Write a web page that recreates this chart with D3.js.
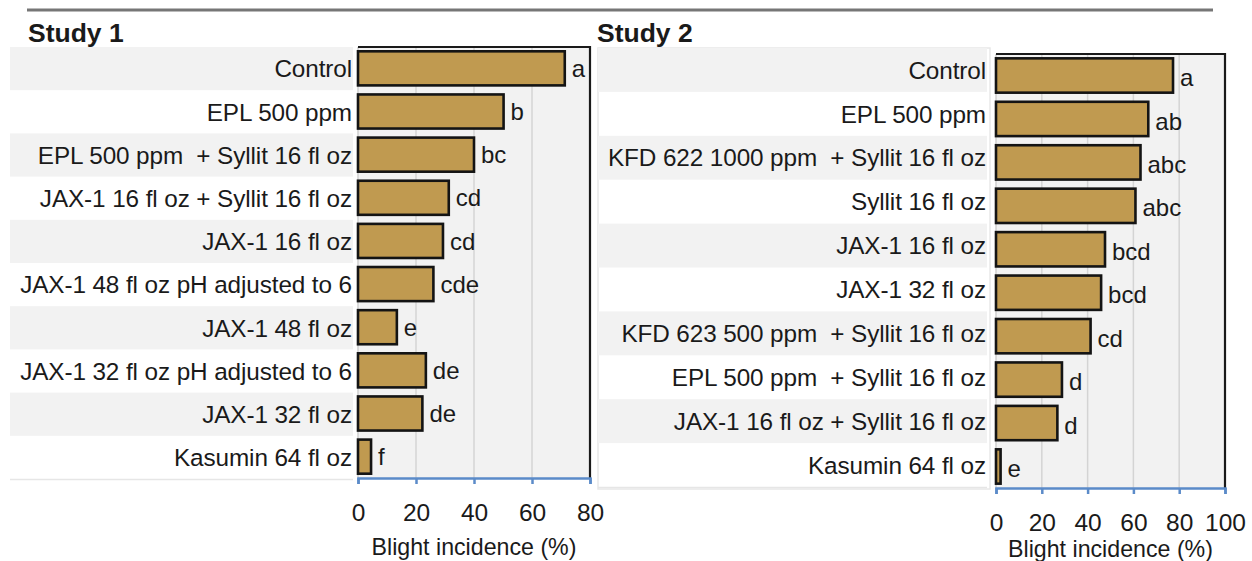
<!DOCTYPE html>
<html>
<head>
<meta charset="utf-8">
<script src="https://cdn.jsdelivr.net/npm/d3@7"></script>
<style>
  html, body { margin: 0; padding: 0; background: #ffffff; }
  svg { display: block; }
  text { font-family: "Liberation Sans", Arial, sans-serif; fill: #1a1a1a; white-space: pre; }
</style>
</head>
<body>
<svg id="chart" width="1252" height="561"></svg>
<script>
// ---- data ----
const study1Categories = [
  "Control",
  "EPL 500 ppm",
  "EPL 500 ppm  + Syllit 16 fl oz",
  "JAX-1 16 fl oz + Syllit 16 fl oz",
  "JAX-1 16 fl oz",
  "JAX-1 48 fl oz pH adjusted to 6",
  "JAX-1 48 fl oz",
  "JAX-1 32 fl oz pH adjusted to 6",
  "JAX-1 32 fl oz",
  "Kasumin 64 fl oz"
];
const study1Values = [71.3, 50.2, 40.0, 31.3, 29.3, 26.0, 13.4, 23.4, 22.2, 4.5];
const study1Letters = ["a", "b", "bc", "cd", "cd", "cde", "e", "de", "de", "f"];
const study1Ticks = [0, 20, 40, 60, 80];

const study2Categories = [
  "Control",
  "EPL 500 ppm",
  "KFD 622 1000 ppm  + Syllit 16 fl oz",
  "Syllit 16 fl oz",
  "JAX-1 16 fl oz",
  "JAX-1 32 fl oz",
  "KFD 623 500 ppm  + Syllit 16 fl oz",
  "EPL 500 ppm  + Syllit 16 fl oz",
  "JAX-1 16 fl oz + Syllit 16 fl oz",
  "Kasumin 64 fl oz"
];
const study2Values = [77.3, 66.5, 63.1, 60.9, 47.6, 45.9, 41.3, 28.8, 26.8, 2.0];
const study2Letters = ["a", "ab", "abc", "abc", "bcd", "bcd", "cd", "d", "d", "e"];
const study2Ticks = [0, 20, 40, 60, 80, 100];

const panelTitles = ["Study 1", "Study 2"];
const axisTitle = "Blight incidence (%)";

// ---- styles ----
const BAR_FILL = "#c09a50";
const BAR_STROKE = "#141414";
const PLOT_BG = "#f2f2f2";
const GRID = "#d4d4d4";
const AXIS_BLUE = "#5b8bc9";
const BAND_GRAY = "#f2f2f2";

const svg = d3.select("#chart");

// top rule
svg.append("line")
  .attr("x1", 27).attr("x2", 1213).attr("y1", 10).attr("y2", 10)
  .attr("stroke", "#767676").attr("stroke-width", 3);

function drawPanel(cfg) {
  const g = svg.append("g");
  const n = cfg.categories.length;

  // label table bands
  const yLab = d3.scaleBand().domain(d3.range(n)).range(cfg.labRange).padding(0);
  if (cfg.tableBorder) {
    g.append("rect")
      .attr("x", cfg.bandX0).attr("y", cfg.labRange[0])
      .attr("width", cfg.bandX1 - cfg.bandX0 + 3)
      .attr("height", cfg.labRange[1] - cfg.labRange[0] + 2)
      .attr("fill", "none").attr("stroke", "#e8e8e8").attr("stroke-width", 1.5);
  }
  g.selectAll("rect.band")
    .data(d3.range(n).filter(i => i % 2 === 0))
    .join("rect")
    .attr("class", "band")
    .attr("x", cfg.bandX0)
    .attr("y", i => yLab(i))
    .attr("width", cfg.bandX1 - cfg.bandX0)
    .attr("height", yLab.bandwidth())
    .attr("fill", BAND_GRAY);
  g.append("line")
    .attr("x1", cfg.bandX0).attr("x2", cfg.bandX1)
    .attr("y1", cfg.labRange[1] + 0.5).attr("y2", cfg.labRange[1] + 0.5)
    .attr("stroke", "#e6e6e6").attr("stroke-width", 1.5);

  g.selectAll("text.cat")
    .data(cfg.categories)
    .join("text")
    .attr("class", "cat")
    .attr("x", cfg.labelX)
    .attr("y", (d, i) => yLab(i) + yLab.bandwidth() / 2)
    .attr("dy", "0.36em")
    .attr("text-anchor", "end")
    .attr("font-size", 24.3)
    .attr("letter-spacing", -0.1)
    .text(d => d);

  // plot area
  const x = d3.scaleLinear().domain(cfg.domain).range(cfg.xRange);
  const y = d3.scaleBand().domain(d3.range(n)).range(cfg.yRange)
    .paddingInner(0.21).paddingOuter(0.1);

  g.append("rect")
    .attr("x", cfg.xRange[0]).attr("y", cfg.yRange[0])
    .attr("width", cfg.xRange[1] - cfg.xRange[0])
    .attr("height", cfg.yRange[1] - cfg.yRange[0])
    .attr("fill", PLOT_BG);

  // gridlines
  g.selectAll("line.grid")
    .data(cfg.ticks.filter(t => t > cfg.domain[0] && t < cfg.domain[1]))
    .join("line")
    .attr("class", "grid")
    .attr("x1", d => x(d)).attr("x2", d => x(d))
    .attr("y1", cfg.yRange[0]).attr("y2", cfg.yRange[1])
    .attr("stroke", GRID).attr("stroke-width", 1.5);

  // frame: left light, top & right black
  g.append("line")
    .attr("x1", cfg.xRange[0]).attr("x2", cfg.xRange[0])
    .attr("y1", cfg.yRange[0]).attr("y2", cfg.yRange[1])
    .attr("stroke", "#cfcfcf").attr("stroke-width", 1.5);
  g.append("path")
    .attr("d", `M${cfg.xRange[0]},${cfg.yRange[0]} H${cfg.xRange[1]} V${cfg.yRange[1]}`)
    .attr("fill", "none").attr("stroke", "#1a1a1a").attr("stroke-width", 2.2);

  // bars
  g.selectAll("rect.bar")
    .data(cfg.values)
    .join("rect")
    .attr("class", "bar")
    .attr("x", x(0))
    .attr("y", (d, i) => y(i))
    .attr("width", d => x(d) - x(0))
    .attr("height", y.bandwidth())
    .attr("fill", BAR_FILL)
    .attr("stroke", BAR_STROKE)
    .attr("stroke-width", 2.6);

  // letters
  g.selectAll("text.letter")
    .data(cfg.letters)
    .join("text")
    .attr("class", "letter")
    .attr("x", (d, i) => x(cfg.values[i]) + 7)
    .attr("y", (d, i) => y(i) + y.bandwidth() / 2 + cfg.letterDy)
    .attr("dy", "0.36em")
    .attr("font-size", 24)
    .text(d => d);

  // x axis
  const axis = d3.axisBottom(x).tickValues(cfg.ticks).tickSize(6).tickPadding(14)
    .tickFormat(d3.format("d"));
  const ag = g.append("g")
    .attr("transform", `translate(0,${cfg.yRange[1]})`)
    .call(axis);
  ag.select(".domain").attr("stroke", AXIS_BLUE).attr("stroke-width", 2.5);
  ag.selectAll(".tick line").attr("stroke", AXIS_BLUE).attr("stroke-width", 2.5);
  ag.selectAll(".tick text")
    .attr("font-family", "Liberation Sans, Arial, sans-serif")
    .attr("font-size", 24.5)
    .attr("fill", "#1a1a1a")
    .attr("y", cfg.tickLabelY - cfg.yRange[1])
    .attr("dy", "0.36em");

  g.append("text")
    .attr("x", (cfg.xRange[0] + cfg.xRange[1]) / 2)
    .attr("y", cfg.titleY)
    .attr("dy", "0.36em")
    .attr("text-anchor", "middle")
    .attr("font-size", 23.2)
    .text(axisTitle);

  // panel title
  g.append("text")
    .attr("x", cfg.titleX)
    .attr("y", 42)
    .attr("font-size", 26.5)
    .attr("font-weight", "bold")
    .text(cfg.title);
}

drawPanel({
  title: panelTitles[0], titleX: 28,
  categories: study1Categories, values: study1Values, letters: study1Letters,
  ticks: study1Ticks, domain: [0, 80],
  xRange: [358, 590], yRange: [47, 478],
  labRange: [47, 479], bandX0: 10, bandX1: 353, labelX: 352,
  tickLabelY: 512, titleY: 547, letterDy: 0, tableBorder: false
});

drawPanel({
  title: panelTitles[1], titleX: 597,
  categories: study2Categories, values: study2Values, letters: study2Letters,
  ticks: study2Ticks, domain: [0, 100],
  xRange: [996, 1225], yRange: [54, 488],
  labRange: [48, 487], bandX0: 598, bandX1: 987, labelX: 986,
  tickLabelY: 522, titleY: 549, letterDy: 2, tableBorder: true
});
</script>
</body>
</html>
